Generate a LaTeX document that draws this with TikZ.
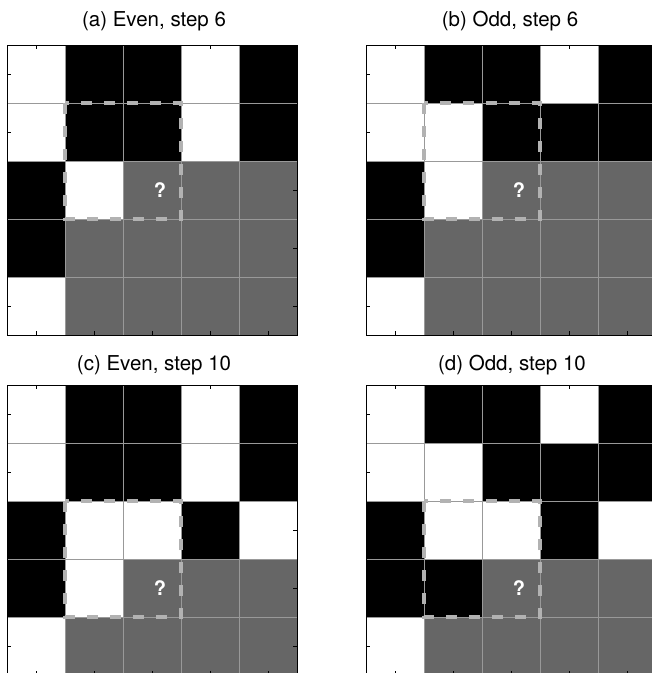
\documentclass[tikz,border=0pt]{standalone}
\usepackage{fontspec}
\setmainfont{TeX Gyre Heros}
\usetikzlibrary{positioning}

\colorlet{cellW}{white}
\colorlet{cellB}{black}
\colorlet{cellG}{black!60}

% one 5x5 board: #1 = top row of the probe box, #2 = cells row by row
\newcommand{\board}[2]{%
  \foreach \c [count=\k from 0] in {#2} {
    \pgfmathtruncatemacro{\col}{mod(\k,5)}
    \pgfmathtruncatemacro{\row}{div(\k,5)}
    \fill[fill=cell\c] (\col*58,\row*58) rectangle ++(58,58);
  }
  \foreach \i in {1,...,4} {
    \draw[sep] (\i*58,0) -- (\i*58,290);
    \draw[sep] (0,\i*58) -- (290,\i*58);
  }
  \foreach \i in {0,...,4} {
    \draw[tick] (\i*58+29,0) -- ++(0,4);
    \draw[tick] (\i*58+29,290) -- ++(0,-4);
    \draw[tick] (0,\i*58+29) -- ++(4,0);
    \draw[tick] (290,\i*58+29) -- ++(-4,0);
  }
  \draw[line width=1pt] (0,0) rectangle (290,290);
  \draw[probe] (58,#1*58) rectangle ++(116,116);
}

\begin{document}
\begin{tikzpicture}[x=1pt,y=-1pt,
    title/.style={font=\fontsize{20.5}{24}\selectfont},
    sep/.style={draw=black!40, line width=0.6pt},
    tick/.style={line width=0.6pt},
    probe/.style={draw=black!30, line width=4.5pt, dash pattern=on 11pt off 12pt},
    qmark/.style={text=white, font=\fontsize{20}{22}\selectfont\bfseries}
  ]
  \useasboundingbox (0,0) rectangle (652,673);

  % (a)
  \begin{scope}[shift={(7,45)}]
    \board{1}{W,B,B,W,B, W,B,B,W,B, B,W,G,G,G, B,G,G,G,G, W,G,G,G,G}
    \node[title] (ta) at (147,-24) {(a) Even, step 6};
    \node[qmark] (qa) at (153,145) {?};
  \end{scope}

  % (b)
  \begin{scope}[shift={(366,45)}]
    \board{1}{W,B,B,W,B, W,W,B,B,B, B,W,G,G,G, B,G,G,G,G, W,G,G,G,G}
    \node[title] (tb) at (144,-24) {(b) Odd, step 6};
    \node[qmark] (qb) at (153,145) {?};
  \end{scope}

  % (c)
  \begin{scope}[shift={(7,385)}]
    \board{2}{W,B,B,W,B, W,B,B,W,B, B,W,W,B,W, B,W,G,G,G, W,G,G,G,G}
    \node[title] (tc) at (147,-20) {(c) Even, step 10};
    \node[qmark] (qc) at (153,203) {?};
  \end{scope}

  % (d)
  \begin{scope}[shift={(366,385)}]
    \board{2}{W,B,B,W,B, W,W,B,B,B, B,W,W,B,W, B,B,G,G,G, W,G,G,G,G}
    \node[title] (td) at (146,-20) {(d) Odd, step 10};
    \node[qmark] (qd) at (153,203) {?};
  \end{scope}
\end{tikzpicture}
\end{document}
